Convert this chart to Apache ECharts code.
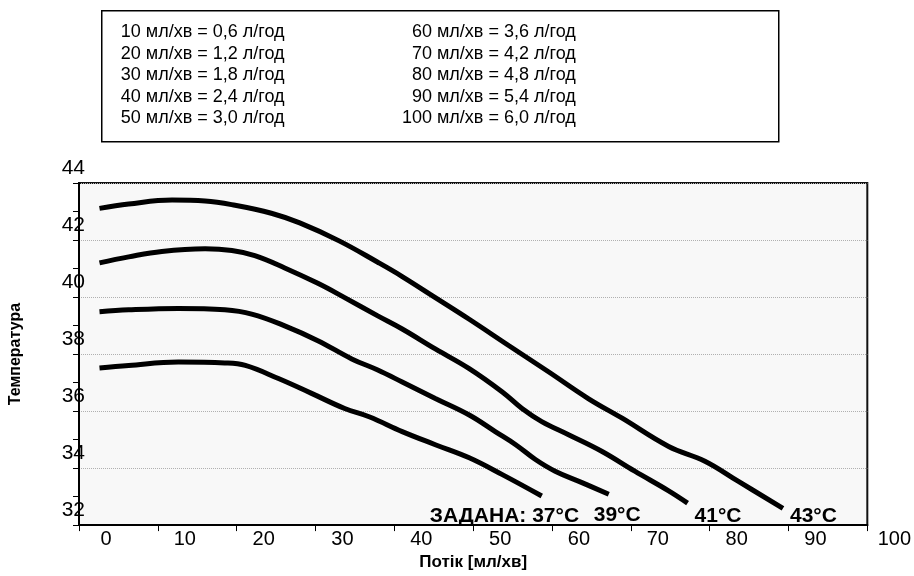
<!DOCTYPE html>
<html>
<head>
<meta charset="utf-8">
<script src="https://cdn.jsdelivr.net/npm/echarts@6/dist/echarts.min.js"></script>
<style>
html,body{margin:0;padding:0;background:#fff}
#chart{width:914px;height:576px}
</style>
</head>
<body>
<div id="chart"></div>
<script>
// потік (мл/хв) і температура для кожної заданої температури
var flow37=[2.6,6.3,12.6,18.5,21.1,25.3,29.5,33.7,36.8,41.0,45.2,49.5,53.7,58.7];
var temp37=[37.51,37.60,37.72,37.69,37.60,37.14,36.62,36.09,35.80,35.28,34.82,34.36,33.77,33.02];

var flow39=[2.6,6.3,12.6,18.5,21.9,26.1,30.3,34.6,37.9,41.0,45.2,49.5,52.8,55.4,57.9,60.4,63.8,67.2];
var temp39=[39.48,39.55,39.60,39.55,39.40,38.99,38.47,37.83,37.44,37.02,36.44,35.86,35.28,34.82,34.30,33.89,33.49,33.08];

var flow41=[2.6,6.3,10.5,16.0,19.4,22.3,26.1,30.3,33.7,37.9,41.0,45.2,49.5,53.7,56.2,58.7,62.1,66.3,70.5,74.8,77.2];
var temp41=[41.20,41.41,41.60,41.69,41.63,41.45,41.02,40.48,39.98,39.34,38.88,38.18,37.49,36.67,36.09,35.63,35.17,34.59,33.89,33.20,32.77];

var flow43=[2.6,6.3,11.8,16.0,19.8,24.4,28.0,33.0,37.9,41.0,45.2,49.5,54.5,59.6,64.6,68.9,74.8,79.4,83.6,89.3];
var temp43=[43.11,43.26,43.40,43.37,43.22,42.94,42.60,41.97,41.22,40.72,39.98,39.22,38.30,37.37,36.44,35.75,34.76,34.24,33.54,32.59];

var curveLabels=['ЗАДАНА: 37°C','39°C','41°C','43°C'];

var convLeft=['10 мл/хв = 0,6 л/год','20 мл/хв = 1,2 л/год','30 мл/хв = 1,8 л/год','40 мл/хв = 2,4 л/год','50 мл/хв = 3,0 л/год'];
var convRight=['60 мл/хв = 3,6 л/год','70 мл/хв = 4,2 л/год','80 мл/хв = 4,8 л/год','90 мл/хв = 5,4 л/год','100 мл/хв = 6,0 л/год'];

var font='"Liberation Sans", Arial, sans-serif';

function pairs(xs,ys){
    var out=[];
    for(var i=0;i<xs.length;i++){
        out.push([xs[i],ys[i]]);
    }
    return out;
}

// зсув підписів біля кінця кривих
var labelOffsets=[[-112,20],[-15,21],[7,13],[7,8]];
var curves=[[flow37,temp37],[flow39,temp39],[flow41,temp41],[flow43,temp43]];
var series=[];
for(var k=0;k<curves.length;k++){
    series.push({
        type:'line',
        data:pairs(curves[k][0],curves[k][1]),
        smooth:0.4,
        symbol:'none',
        lineStyle:{color:'#000',width:5},
        endLabel:{
            show:true,
            formatter:curveLabels[k],
            distance:0,
            align:'left',
            verticalAlign:'middle',
            offset:labelOffsets[k],
            fontFamily:font,
            fontWeight:'bold',
            fontSize:21,
            color:'#000'
        }
    });
}

var myChart=echarts.init(document.getElementById('chart'));
myChart.setOption({
    animation:false,
    grid:{
        left:79,top:183,right:45,bottom:48,
        show:true,
        backgroundColor:'#f8f8f8',
        borderColor:'#111',
        borderWidth:2
    },
    xAxis:{
        type:'value',
        min:0,max:100,interval:10,
        name:'Потік [мл/хв]',
        nameLocation:'middle',
        nameGap:23,
        nameTextStyle:{fontFamily:font,fontWeight:'bold',fontSize:17,color:'#000'},
        axisLine:{lineStyle:{color:'#000',width:2}},
        axisTick:{length:6,lineStyle:{color:'#000',width:1}},
        axisLabel:{
            fontFamily:font,fontSize:20,color:'#000',margin:4,
            padding:[0,0,0,54]
        },
        splitLine:{show:false}
    },
    yAxis:{
        type:'value',
        min:32,max:44,interval:2,
        name:'Температура',
        nameLocation:'middle',
        nameGap:55,
        nameTextStyle:{fontFamily:font,fontWeight:'bold',fontSize:16,color:'#000'},
        axisLine:{show:true,lineStyle:{color:'#000',width:2}},
        axisTick:{show:true,length:6,lineStyle:{color:'#000',width:1}},
        minorTick:{show:true,splitNumber:2,length:6,lineStyle:{color:'#000',width:1}},
        axisLabel:{
            fontFamily:font,fontSize:21,color:'#000',margin:-6,
            verticalAlign:'bottom',
            lineHeight:29
        },
        splitLine:{show:true,lineStyle:{color:'#b0b0b0',type:'dotted',width:1}}
    },
    graphic:[{
        type:'group',
        left:101,top:10,
        children:[
            {type:'rect',shape:{x:0,y:0,width:677,height:131},
             style:{fill:'#fff',stroke:'#000',lineWidth:1.5}},
            {type:'text',x:19,y:11,
             style:{text:convLeft.join('\n'),font:'18px '+font,lineHeight:21.5,fill:'#000'}},
            {type:'text',x:474,y:11,
             style:{text:convRight.join('\n'),font:'18px '+font,lineHeight:21.5,fill:'#000',align:'right'}}
        ]
    }],
    series:series
});
</script>
</body>
</html>
